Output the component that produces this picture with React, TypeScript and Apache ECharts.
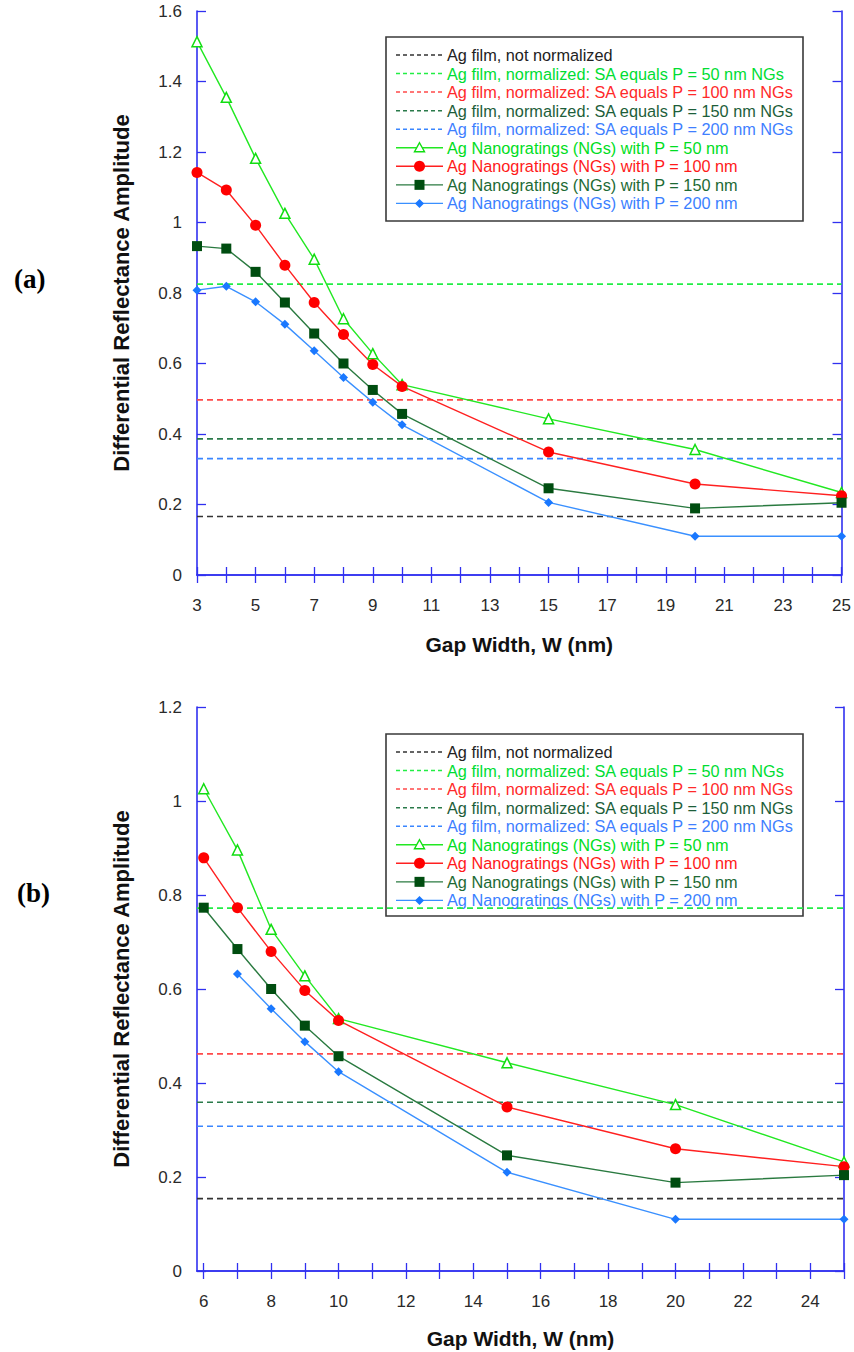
import React, { useEffect, useRef } from "react";
import * as echarts from "echarts";

// ---------- data ----------
const gapA = [3, 4, 5, 6, 7, 8, 9, 10, 15, 20, 25];
const p50A = [1.513, 1.355, 1.182, 1.026, 0.896, 0.727, 0.628, 0.54, 0.443, 0.356, 0.234];
const p100A = [1.142, 1.092, 0.992, 0.879, 0.773, 0.682, 0.597, 0.535, 0.349, 0.258, 0.225];
const p150A = [0.933, 0.926, 0.86, 0.773, 0.685, 0.6, 0.525, 0.457, 0.246, 0.189, 0.205];
const p200A = [0.808, 0.819, 0.775, 0.711, 0.636, 0.56, 0.49, 0.426, 0.206, 0.11, 0.11];

const gapB = [6, 7, 8, 9, 10, 15, 20, 25];
const p50B = [1.026, 0.896, 0.727, 0.628, 0.537, 0.443, 0.354, 0.232];
const p100B = [0.879, 0.773, 0.68, 0.597, 0.533, 0.349, 0.26, 0.222];
const p150B = [0.773, 0.685, 0.6, 0.522, 0.457, 0.246, 0.188, 0.204];
const gapB200 = [7, 8, 9, 10, 15, 20, 25];
const p200B = [0.632, 0.558, 0.488, 0.424, 0.21, 0.11, 0.11];

// film reference levels: not normalized, P=50, P=100, P=150, P=200
const filmA = [0.166, 0.825, 0.497, 0.386, 0.33];
const filmB = [0.154, 0.772, 0.462, 0.359, 0.308];

const xTicksA = [3, 4, 5, 6, 7, 8, 9, 10, 11, 12, 13, 14, 15, 16, 17, 18, 19, 20, 21, 22, 23, 24, 25];
const xLabelsA = [3, 5, 7, 9, 11, 13, 15, 17, 19, 21, 23, 25];
const xTicksB = [6, 7, 8, 9, 10, 11, 12, 13, 14, 15, 16, 17, 18, 19, 20, 21, 22, 23, 24, 25];
const xLabelsB = [6, 8, 10, 12, 14, 16, 18, 20, 22, 24];

const legendNames = [
  "Ag film, not normalized",
  "Ag film, normalized: SA equals P = 50 nm NGs",
  "Ag film, normalized: SA equals P = 100 nm NGs",
  "Ag film, normalized: SA equals P = 150 nm NGs",
  "Ag film, normalized: SA equals P = 200 nm NGs",
  "Ag Nanogratings (NGs) with P = 50 nm",
  "Ag Nanogratings (NGs) with P = 100 nm",
  "Ag Nanogratings (NGs) with P = 150 nm",
  "Ag Nanogratings (NGs) with P = 200 nm",
];

// ---------- styles ----------
const dashColors = ["#333333", "#22ee44", "#ff4a4a", "#2a7a4a", "#3a86ff"];
const textColors = ["#222222", "#00dd33", "#ff2a2a", "#1d5e3a", "#3f7fff", "#00dd22", "#ff1a1a", "#1d6a34", "#3b7fff"];
const lineColors = { p50: "#22e822", p100: "#ff2020", p150: "#2a7a40", p200: "#3a90ff" };
const markColors = { p50: "#11dd11", p100: "#ff0000", p150: "#004d10", p200: "#1a78ff" };
const AXIS = "#3030f0";
const TICKFONT = "'Liberation Sans Narrow', 'Arial Narrow', 'Liberation Sans', Arial, sans-serif";
const FONT = "'Liberation Sans', Arial, sans-serif";

const GRID_LEFT = 197;
const GRID_W = 647;
const GRID_H = 564;
const TOP_A = 11;
const TOP_B = 707;

function pairs(xs: number[], ys: number[]) {
  return xs.map((x, i) => [x, ys[i]]);
}

function xAxisPair(grid: number, min: number, max: number, ticks: number[], labels: number[], nameGap: number) {
  const line = { show: true, lineStyle: { color: AXIS, width: 1.6 } };
  return [
    {
      type: "value", gridIndex: grid, position: "bottom", min, max,
      axisLine: line,
      axisTick: { show: true, inside: true, length: 8, customValues: ticks, lineStyle: { color: AXIS, width: 1.3 } },
      axisLabel: { show: true, customValues: labels, margin: 22, fontSize: 17, color: "#2a2a2a", fontFamily: TICKFONT },
      splitLine: { show: false },
      name: "Gap Width, W (nm)", nameLocation: "middle", nameGap,
      nameTextStyle: { fontSize: 21, fontWeight: "bold", color: "#111", fontFamily: FONT },
    },
    {
      type: "value", gridIndex: grid, position: "top", min, max,
      axisLine: line,
      axisTick: { show: true, inside: true, length: 8, customValues: ticks, lineStyle: { color: AXIS, width: 1.3 } },
      axisLabel: { show: false },
      splitLine: { show: false },
    },
  ];
}

function yAxisPair(grid: number, max: number) {
  const line = { show: true, lineStyle: { color: AXIS, width: 1.6 } };
  return [
    {
      type: "value", gridIndex: grid, position: "left", min: 0, max, interval: 0.2,
      axisLine: line,
      axisTick: { show: true, inside: true, length: 9, lineStyle: { color: AXIS, width: 1.3 } },
      axisLabel: { margin: 15, fontSize: 17, color: "#2a2a2a", fontFamily: TICKFONT },
      splitLine: { show: false },
      name: "Differential Reflectance Amplitude", nameLocation: "middle", nameGap: 65,
      nameTextStyle: { fontSize: 22, fontWeight: "bold", color: "#111", fontFamily: FONT },
    },
    {
      type: "value", gridIndex: grid, position: "right", min: 0, max, interval: 0.2,
      axisLine: line,
      axisTick: { show: true, inside: true, length: 9, lineStyle: { color: AXIS, width: 1.3 } },
      axisLabel: { show: false },
      splitLine: { show: false },
    },
  ];
}

function filmSeries(levels: number[], xi: number, yi: number, min: number, max: number) {
  return levels.map((v, i) => ({
    type: "line", xAxisIndex: xi, yAxisIndex: yi, symbol: "none", silent: true, z: 1,
    data: [[min, v], [max, v]],
    lineStyle: { color: dashColors[i], width: 1.7, type: [6, 4] },
  }));
}

function ngSeries(xi: number, yi: number, s: { x: number[]; y: number[] }[]) {
  const keys = ["p50", "p100", "p150", "p200"] as const;
  const symbols = ["triangle", "circle", "rect", "diamond"];
  const sizes = [10, 11, 10, 9];
  return s.map((d, i) => ({
    type: "line", xAxisIndex: xi, yAxisIndex: yi, z: 3,
    data: pairs(d.x, d.y),
    symbol: symbols[i], symbolSize: sizes[i], showAllSymbol: true,
    lineStyle: { color: lineColors[keys[i]], width: 1.4 },
    itemStyle: i === 0
      ? { color: "#ffffff", borderColor: markColors.p50, borderWidth: 1.5 }
      : { color: markColors[keys[i]], borderWidth: 0 },
  }));
}

function legendGraphic(top: number, height: number) {
  const children: any[] = [
    { type: "rect", shape: { x: 0, y: 0, width: 417, height }, style: { fill: "#fff", stroke: "#3a3a3a", lineWidth: 1.6 } },
  ];
  const mk = [markColors.p50, markColors.p100, markColors.p150, markColors.p200];
  const lc = [lineColors.p50, lineColors.p100, lineColors.p150, lineColors.p200];
  legendNames.forEach((name, i) => {
    const y = 18 + i * 18.55;
    if (i < 5) {
      children.push({ type: "line", shape: { x1: 10, y1: y, x2: 57, y2: y }, style: { stroke: dashColors[i], lineWidth: 1.5, lineDash: [4, 3] } });
    } else {
      const k = i - 5;
      children.push({ type: "line", shape: { x1: 10, y1: y, x2: 57, y2: y }, style: { stroke: lc[k], lineWidth: 1.4 } });
      const cx = 33.5;
      if (k === 0) children.push({ type: "polygon", shape: { points: [[cx, y - 5], [cx + 5, y + 4], [cx - 5, y + 4]] }, style: { fill: "#fff", stroke: mk[0], lineWidth: 1.4 } });
      if (k === 1) children.push({ type: "circle", shape: { cx, cy: y, r: 5.5 }, style: { fill: mk[1] } });
      if (k === 2) children.push({ type: "rect", shape: { x: cx - 5, y: y - 5, width: 10, height: 10 }, style: { fill: mk[2] } });
      if (k === 3) children.push({ type: "polygon", shape: { points: [[cx, y - 4.5], [cx + 4.5, y], [cx, y + 4.5], [cx - 4.5, y]] }, style: { fill: mk[3] } });
    }
    children.push({
      type: "text", x: 61, y,
      style: { text: name, fill: textColors[i], fontSize: 16.3, fontFamily: FONT, align: "left", verticalAlign: "middle" },
    });
  });
  return { type: "group", x: 386, y: top, z: 10, children };
}

export default function App() {
  const ref = useRef<HTMLDivElement>(null);
  useEffect(() => {
    if (!ref.current) return;
    const chart = echarts.init(ref.current, undefined, { renderer: "svg" });
    const option: any = {
      animation: false,
      backgroundColor: "#ffffff",
      grid: [
        { left: GRID_LEFT, top: TOP_A, width: GRID_W, height: GRID_H },
        { left: GRID_LEFT, top: TOP_B, width: GRID_W, height: GRID_H },
      ],
      xAxis: [
        ...xAxisPair(0, 3, 25, xTicksA, xLabelsA, 59),
        ...xAxisPair(1, 5.8, 25, xTicksB, xLabelsB, 57),
      ],
      yAxis: [...yAxisPair(0, 1.6), ...yAxisPair(1, 1.2)],
      series: [
        ...filmSeries(filmA, 0, 0, 3, 25),
        ...ngSeries(0, 0, [
          { x: gapA, y: p50A },
          { x: gapA, y: p100A },
          { x: gapA, y: p150A },
          { x: gapA, y: p200A },
        ]),
        ...filmSeries(filmB, 2, 2, 5.8, 25),
        ...ngSeries(2, 2, [
          { x: gapB, y: p50B },
          { x: gapB, y: p100B },
          { x: gapB, y: p150B },
          { x: gapB200, y: p200B },
        ]),
      ],
      graphic: [
        legendGraphic(37, 184),
        legendGraphic(734, 182),
        { type: "text", x: 14, y: 279, style: { text: "(a)", fontSize: 27, fontWeight: "bold", fontFamily: "'Liberation Serif', 'Times New Roman', serif", fill: "#000", verticalAlign: "middle" } },
        { type: "text", x: 17, y: 893, style: { text: "(b)", fontSize: 27, fontWeight: "bold", fontFamily: "'Liberation Serif', 'Times New Roman', serif", fill: "#000", verticalAlign: "middle" } },
      ],
    };
    chart.setOption(option);
    return () => chart.dispose();
  }, []);
  return <div ref={ref} style={{ position: "absolute", left: 0, top: 0, width: 854, height: 1352 }} />;
}
